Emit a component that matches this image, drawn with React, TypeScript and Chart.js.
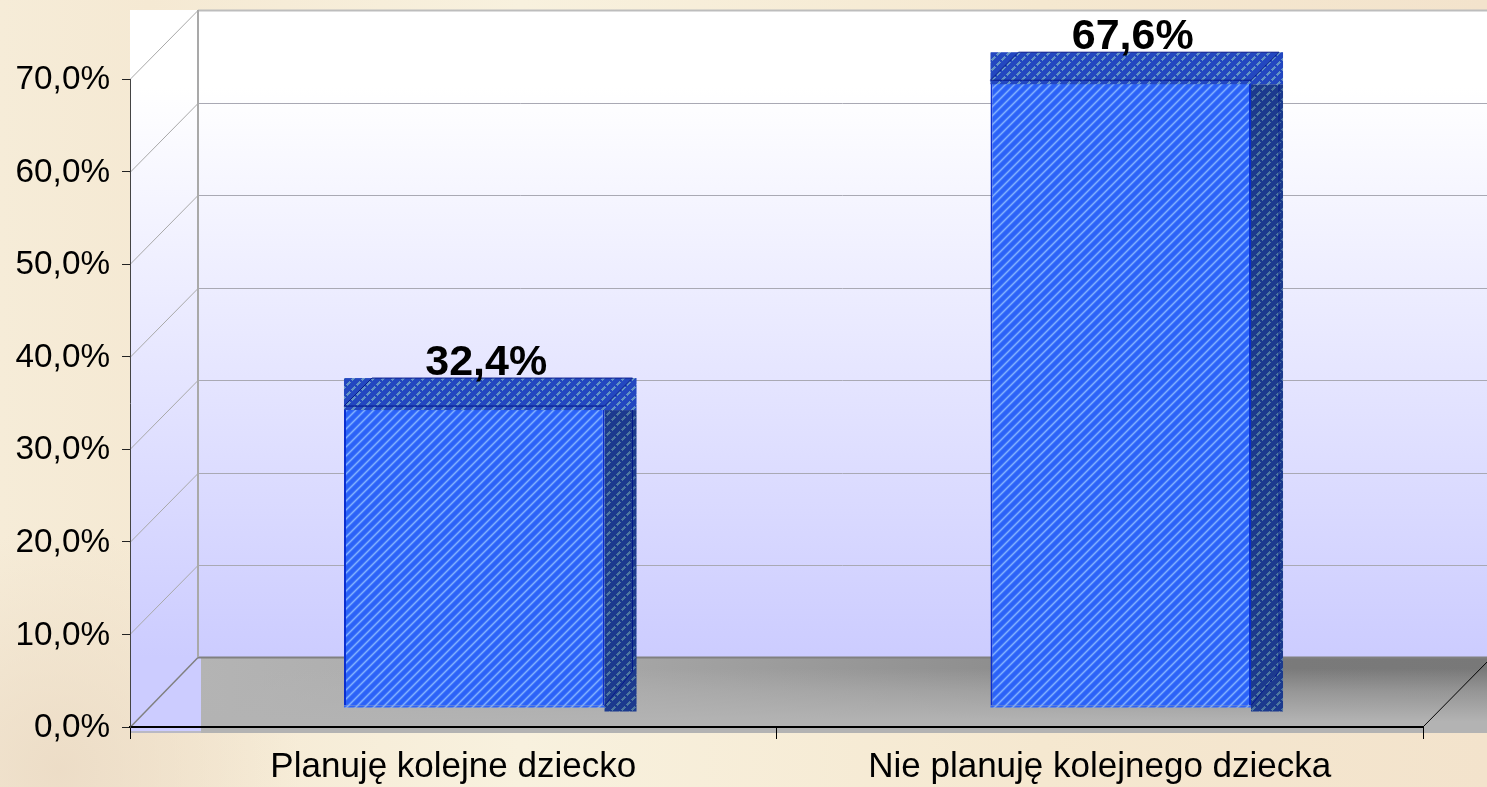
import React, { useEffect, useRef } from "react";
import { Chart, registerables } from "chart.js";

Chart.register(...registerables);

const categories = ["Planuję kolejne dziecko", "Nie planuję kolejnego dziecka"];
const shares = [32.4, 67.6];
const yMin = 0;
const yMax = 70;
const yStep = 10;

const FONT = '"Liberation Sans", Arial, sans-serif';
const WALL_DX = 68;
const WALL_DY = 69;
const BAR_DX = 21;
const BAR_DY = 21;
const DEPTH_X = 32;
const DEPTH_Y = 28;

function tile(size: number, base: string, dot: string, test: (x: number, y: number) => number) {
  const c = document.createElement("canvas");
  c.width = size;
  c.height = size;
  const g = c.getContext("2d")!;
  g.fillStyle = base;
  g.fillRect(0, 0, size, size);
  for (let x = 0; x < size; x++) {
    for (let y = 0; y < size; y++) {
      const a = test(x, y);
      if (a > 0) {
        g.globalAlpha = a;
        g.fillStyle = dot;
        g.fillRect(x, y, 1, 1);
      }
    }
  }
  g.globalAlpha = 1;
  return g.createPattern(c, "repeat")!;
}

const frontTest = (x: number, y: number) => {
  const t = (x + y) % 9;
  return t === 0 ? 0.9 : t === 1 || t === 8 ? 0.5 : t === 2 || t === 7 ? 0.12 : 0;
};
const dashTest = (x: number, y: number) => {
  const t = (x + y) % 10;
  const d = (x - y + 20) % 10;
  return t < 3 && d < 7 ? 1 : 0;
};

const scenePlugin = {
  id: "scene",
  beforeDraw(chart: any) {
    const { ctx, width, height, chartArea: a, scales } = chart;
    const y = scales.y;
    ctx.save();
    // page backdrop
    const bg = ctx.createLinearGradient(0, 0, width, 0);
    bg.addColorStop(0, "#f6ecd8");
    bg.addColorStop(0.1, "#f5e9d3");
    bg.addColorStop(0.35, "#f8f1de");
    bg.addColorStop(0.7, "#f5e8d0");
    bg.addColorStop(1, "#f3e3cc");
    ctx.fillStyle = bg;
    ctx.fillRect(0, 0, width, height);
    const blot = ctx.createRadialGradient(60, 770, 0, 60, 770, 240);
    blot.addColorStop(0, "rgba(236,220,198,0.95)");
    blot.addColorStop(1, "rgba(236,220,198,0)");
    ctx.fillStyle = blot;
    ctx.fillRect(0, 500, 320, 287);

    // plot background
    const top = y.getPixelForValue(yMax) - WALL_DY;
    const zero = y.getPixelForValue(yMin);
    const back = zero - WALL_DY - 1;
    const under = zero + 6;
    const wall = ctx.createLinearGradient(0, top, 0, back);
    wall.addColorStop(0, "#ffffff");
    wall.addColorStop(0.12, "#ffffff");
    wall.addColorStop(1, "#ccccff");
    ctx.fillStyle = wall;
    ctx.fillRect(a.left, top, width - a.left, back - top);
    ctx.fillStyle = "#ccccff";
    ctx.fillRect(a.left, back, 71, under - back - 1);

    // floor: darkening to the right, fading to the front
    const floorX = ctx.createLinearGradient(a.left + 71, 0, width, 0);
    floorX.addColorStop(0, "#b4b4b4");
    floorX.addColorStop(0.34, "#a5a5a5");
    floorX.addColorStop(0.61, "#8f8f8f");
    floorX.addColorStop(0.85, "#7a7a7a");
    floorX.addColorStop(1, "#787878");
    ctx.fillStyle = floorX;
    ctx.fillRect(a.left + 71, back, width - a.left - 71, under - back);
    const floorY = ctx.createLinearGradient(0, back, 0, under);
    floorY.addColorStop(0, "rgba(179,179,179,0)");
    floorY.addColorStop(0.15, "rgba(179,179,179,0)");
    floorY.addColorStop(0.45, "rgba(179,179,179,0.5)");
    floorY.addColorStop(0.85, "rgba(179,179,179,1)");
    floorY.addColorStop(1, "rgba(179,179,179,1)");
    ctx.fillStyle = floorY;
    ctx.fillRect(a.left + 71, back, width - a.left - 71, under - back);
    ctx.fillStyle = "#b9b9c4";
    ctx.fillRect(a.left, under - 2, 71, 2);

    // grid on the walls
    for (const t of y.ticks) {
      const py = Math.round(y.getPixelForValue(t.value)) + 0.5;
      const isBase = t.value === yMin;
      const isTop = t.value === yMax;
      const by = py - WALL_DY - (isBase ? 1 : 0);
      ctx.strokeStyle = isBase ? "#808080" : isTop ? "#bdbdbd" : "#a9a9b4";
      ctx.lineWidth = isBase || isTop ? 2 : 1;
      ctx.beginPath();
      ctx.moveTo(a.left + WALL_DX, by);
      ctx.lineTo(width, by);
      ctx.stroke();
      ctx.lineWidth = isBase ? 1.5 : 1;
      ctx.strokeStyle = isBase ? "#808080" : "#a9a9a9";
      ctx.beginPath();
      ctx.moveTo(a.left, py);
      ctx.lineTo(a.left + WALL_DX, by);
      ctx.stroke();
    }
    ctx.strokeStyle = "#a9a9a9";
    ctx.lineWidth = 2;
    ctx.beginPath();
    ctx.moveTo(a.left + WALL_DX, top);
    ctx.lineTo(a.left + WALL_DX, back);
    ctx.stroke();
    // floor's right edge
    ctx.strokeStyle = "#000000";
    ctx.lineWidth = 1;
    ctx.beginPath();
    ctx.moveTo(a.right, zero);
    ctx.lineTo(a.right + WALL_DX, zero - WALL_DY);
    ctx.stroke();
    ctx.restore();
  },
  beforeDatasetsDraw(chart: any) {
    chart.ctx.save();
    chart.ctx.translate(BAR_DX, -BAR_DY);
  },
  afterDatasetsDraw(chart: any) {
    const ctx = chart.ctx;
    const pTop = tile(10, "#2347c0", "#6494c4", dashTest);
    const pSide = tile(10, "#1c3a8e", "#4f78a0", dashTest);
    const pFront = tile(9, "#2b62f8", "#8ab8ff", frontTest);
    (chart.getDatasetMeta(0).data as any[]).forEach((bar, i) => {
      const left = bar.x - bar.width / 2;
      const right = bar.x + bar.width / 2;
      const yTop = bar.y;
      const base = bar.base;
      // lower strip
      ctx.fillStyle = pFront;
      ctx.fillRect(left, base, right - left + 2, 2);
      ctx.fillRect(right, yTop, 2, base - yTop);
      // side
      ctx.fillStyle = pSide;
      ctx.fillRect(right, yTop + 4, DEPTH_X, base - yTop + 2);
      // top
      ctx.fillStyle = pTop;
      ctx.fillRect(left, yTop - DEPTH_Y, right - left + DEPTH_X, DEPTH_Y + 4);
      // edges
      ctx.strokeStyle = "#061a8c";
      ctx.lineWidth = 1;
      ctx.beginPath();
      ctx.moveTo(left, yTop);
      ctx.lineTo(left + DEPTH_X - 4, yTop - DEPTH_Y);
      ctx.lineTo(right + DEPTH_X - 4, yTop - DEPTH_Y);
      ctx.lineTo(right, yTop);
      ctx.lineTo(left, yTop);
      ctx.moveTo(right, base);
      ctx.lineTo(right + DEPTH_X - 4, base - DEPTH_Y - 6);
      ctx.lineTo(right + DEPTH_X - 4, yTop + 4);
      ctx.stroke();
      // value
      ctx.fillStyle = "#000000";
      ctx.font = `bold 43px ${FONT}`;
      ctx.textAlign = "center";
      ctx.textBaseline = "alphabetic";
      ctx.fillText(shares[i].toFixed(1).replace(".", ",") + "%", bar.x + 12, yTop - DEPTH_Y - 3);
    });
    ctx.restore();
  },
};

export default function App() {
  const ref = useRef<HTMLCanvasElement | null>(null);
  useEffect(() => {
    const chart = new Chart(ref.current!, {
      type: "bar",
      data: {
        labels: categories,
        datasets: [
          {
            data: shares,
            backgroundColor: tile(9, "#2b62f8", "#8ab8ff", frontTest),
            borderColor: "#0a2fd0",
            borderWidth: 2,
            barPercentage: 0.403,
            categoryPercentage: 1,
            clip: false,
          } as any,
        ],
      },
      options: {
        animation: false,
        responsive: false,
        layout: { padding: { top: 79, right: 64, left: 0, bottom: 0 } },
        plugins: { legend: { display: false }, tooltip: { enabled: false } },
        scales: {
          x: {
            offset: true,
            grid: { offset: true, drawOnChartArea: false, tickLength: 12, color: "#000000", tickColor: "#000000" },
            border: { color: "#000000", width: 2 },
            ticks: { color: "#000000", font: { family: FONT, size: 35 }, padding: 7, maxRotation: 0 },
            afterFit: (s: any) => {
              s.height = 60;
            },
          },
          y: {
            min: yMin,
            max: yMax,
            grid: { drawOnChartArea: false, tickLength: 8, color: "#222222", tickColor: "#222222" },
            border: { color: "#444444", width: 1 },
            ticks: {
              stepSize: yStep,
              color: "#000000",
              font: { family: FONT, size: 33.3 },
              padding: 12,
              labelOffset: 1,
              callback: (v: any) => Number(v).toFixed(1).replace(".", ",") + "%",
            },
            afterFit: (s: any) => {
              s.width = 130;
            },
          },
        },
      },
      plugins: [scenePlugin],
    } as any);
    return () => chart.destroy();
  }, []);
  return (
    <div style={{ position: "fixed", left: 0, top: 0, width: 1487, height: 787, overflow: "hidden" }}>
      <canvas ref={ref} width={1487} height={787} style={{ display: "block", width: 1487, height: 787 }} />
    </div>
  );
}
